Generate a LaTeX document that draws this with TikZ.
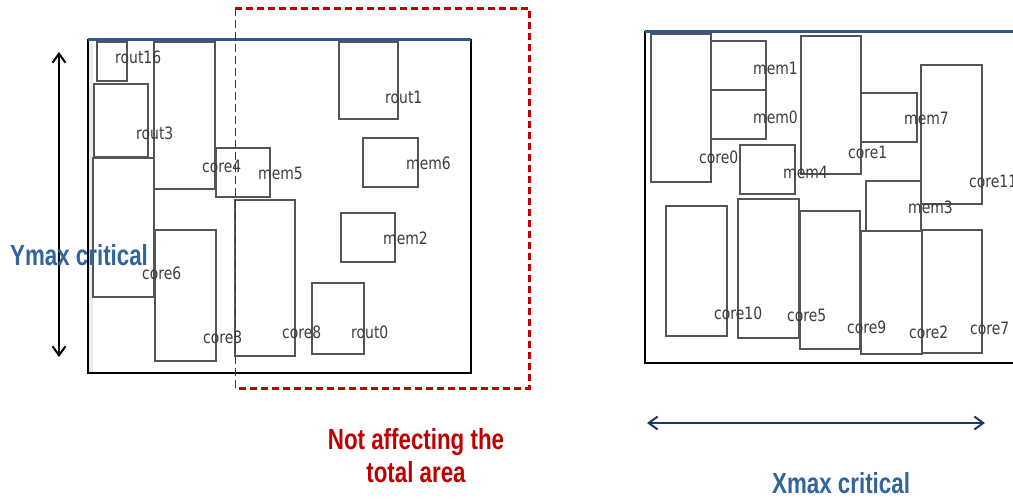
\documentclass[tikz,border=0pt]{standalone}
\usepackage{fontspec}
\newfontfamily\blkfont{DejaVu Sans}[FakeStretch=0.82]
\newfontfamily\capfont{Liberation Sans}[FakeStretch=0.77]
\usetikzlibrary{arrows.meta}
\definecolor{capblue}{RGB}{49,100,155}
\definecolor{capred}{RGB}{192,0,0}
\definecolor{navy}{RGB}{31,56,100}
\definecolor{topblue}{RGB}{47,88,140}
\definecolor{blkgray}{RGB}{85,85,85}
\definecolor{lblgray}{RGB}{60,60,60}

\begin{document}
\begin{tikzpicture}[x=1pt, y=-1pt,
  blk/.style={draw=blkgray, line width=1.2pt},
  lbl/.style={anchor=west, inner sep=0pt, text=lblgray,
              font=\blkfont\fontsize{17}{17}\selectfont},
  captext/.style={inner sep=0pt, font=\capfont\bfseries\fontsize{29}{33}\selectfont},
  dim/.style={{Straight Barb[length=9pt,width=13pt]}-{Straight Barb[length=9pt,width=13pt]},
              line width=2pt}
]
  \useasboundingbox (0,0) rectangle (1013,499);

  % left floorplan: frame
  \fill[black!8] (88,39) rectangle (93,373);
  \draw[line width=1.2pt] (88,39) -- (88,373) (471,39) -- (471,373);
  \draw[line width=2.4pt] (87,373) -- (472,373);
  \draw[topblue, line width=3pt] (88,39) -- (471,39);
  % left floorplan: blocks
  \draw[blk] (97,42) rectangle (127,81);
  \draw[blk] (94,84) rectangle (148,157);
  \draw[blk] (154,42) rectangle (215,189);
  \draw[blk] (216,148) rectangle (270,197);
  \draw[blk] (93,158) rectangle (154,297);
  \draw[blk] (155,230) rectangle (216,361);
  \draw[blk] (235,200) rectangle (295,356);
  \draw[blk] (312,283) rectangle (364,354);
  \draw[blk] (341,213) rectangle (395,262);
  \draw[blk] (339,42) rectangle (398,119);
  \draw[blk] (363,138) rectangle (418,187);
  \node[lbl] (rout16) at (115,57) {rout16};
  \node[lbl] (rout3) at (136,133) {rout3};
  \node[lbl] (core4) at (202,166) {core4};
  \node[lbl] (mem5) at (258,173) {mem5};
  \node[lbl] (core6) at (142,273) {core6};
  \node[lbl] (core3) at (203,337) {core3};
  \node[lbl] (core8) at (282,332) {core8};
  \node[lbl] (rout0) at (351,332) {rout0};
  \node[lbl] (mem2) at (383,238) {mem2};
  \node[lbl] (rout1) at (385,97) {rout1};
  \node[lbl] (mem6) at (406,163) {mem6};

  % region that does not count
  \draw[capred, line width=1pt, dash pattern=on 8pt off 4pt] (235,8) -- (235,388);
  \draw[capred, line width=3pt, dash pattern=on 7pt off 4pt] (235,8) -- (529,8) -- (529,388) -- (235,388);
  \node[captext, text=capred, align=center, anchor=north] (notarea) at (416,428)
    {Not affecting the\\total area};

  % vertical extent
  \coordinate (ytop) at (59,52);
  \coordinate (ybot) at (59,357);
  \draw[dim] (ytop) -- (ybot);
  \node[captext, text=capblue, anchor=base west] (ymax) at (10,265) {Ymax critical};

  % right floorplan: frame
  \draw[line width=1.2pt] (645,31) -- (645,363);
  \draw[line width=2.4pt] (644,363) -- (1013,363);
  \draw[topblue, line width=3pt] (645,31.5) -- (1013,31.5);
  % right floorplan: blocks
  \draw[blk] (651,34) rectangle (711,182);
  \draw[blk] (711,41) rectangle (766,90);
  \draw[blk] (711,90) rectangle (766,139);
  \draw[blk] (740,145) rectangle (795,194);
  \draw[blk] (801,36) rectangle (861,174);
  \draw[blk] (861,93) rectangle (917,142);
  \draw[blk] (921,65) rectangle (982,204);
  \draw[blk] (866,181) rectangle (921,231);
  \draw[blk] (666,206) rectangle (727,336);
  \draw[blk] (738,199) rectangle (799,338);
  \draw[blk] (800,211) rectangle (860,349);
  \draw[blk] (861,231) rectangle (922,354);
  \draw[blk] (922,230) rectangle (982,353);
  \node[lbl] (core0) at (699,157) {core0};
  \node[lbl] (mem1) at (753,68) {mem1};
  \node[lbl] (mem0) at (753,117) {mem0};
  \node[lbl] (mem4) at (783,172) {mem4};
  \node[lbl] (core1) at (848,152) {core1};
  \node[lbl] (mem7) at (904,118) {mem7};
  \node[lbl] (core11) at (969,181) {core11};
  \node[lbl] (mem3) at (908,207) {mem3};
  \node[lbl] (core10) at (714,313) {core10};
  \node[lbl] (core5) at (787,315) {core5};
  \node[lbl] (core9) at (847,327) {core9};
  \node[lbl] (core2) at (909,332) {core2};
  \node[lbl] (core7) at (970,328) {core7};

  % horizontal extent
  \coordinate (xleft) at (647,423);
  \coordinate (xright) at (985,423);
  \draw[dim, navy] (xleft) -- (xright);
  \node[captext, text=capblue, anchor=base west] (xmax) at (772,493) {Xmax critical};
\end{tikzpicture}
\end{document}
